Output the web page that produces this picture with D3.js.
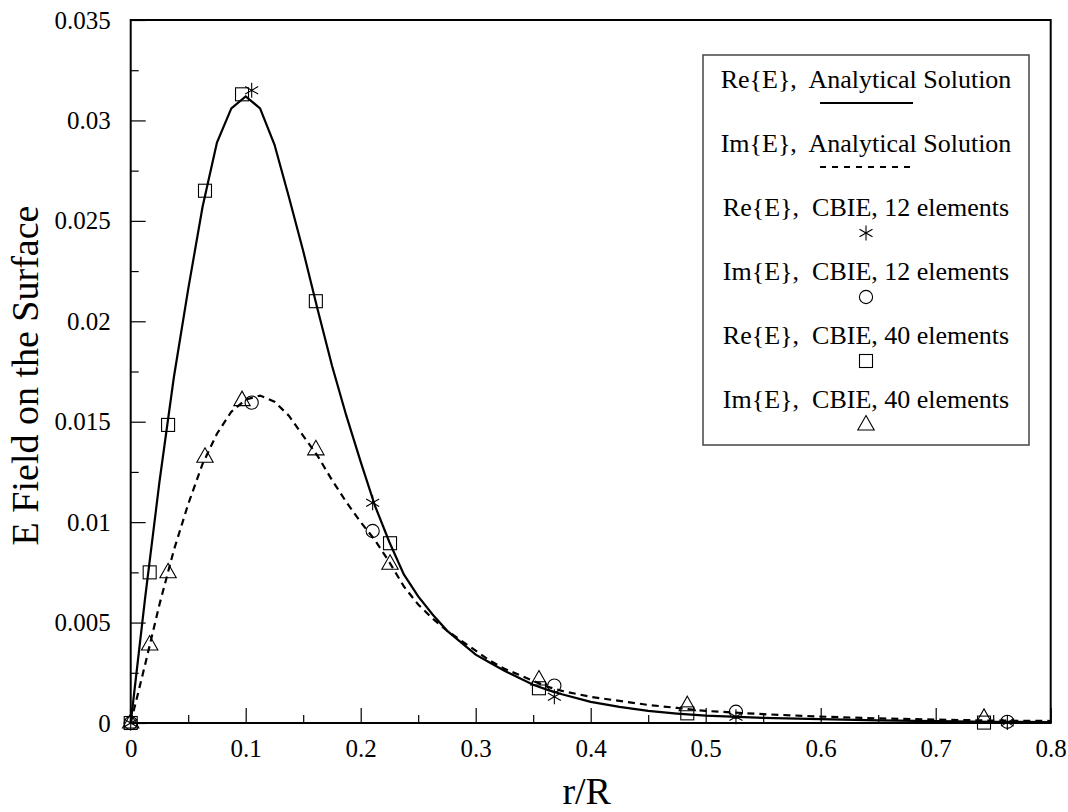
<!DOCTYPE html>
<html>
<head>
    <title></title>
    <meta charset="utf-8" />
    <script src="https://cdn.jsdelivr.net/npm/d3@7"></script>
    <style>
        body { margin: 0; background: #fff; }
        text { font-family: "Liberation Serif", "Times New Roman", serif; fill: #000; }
        .tick text { font-size: 25px; }
    </style>
</head>
<body>
    <script>
        // analytical curves, sampled along r/R
        var curveX = [0, 0.0125, 0.025, 0.0375, 0.05, 0.0625, 0.075, 0.0875, 0.1, 0.1125, 0.125, 0.1375, 0.15, 0.1625, 0.175, 0.1875,
            0.2, 0.2125, 0.225, 0.2375, 0.25, 0.2625, 0.275, 0.2875, 0.3, 0.3125, 0.325, 0.3375, 0.35, 0.3625, 0.375,
            0.4, 0.425, 0.45, 0.475, 0.5, 0.55, 0.6, 0.65, 0.7, 0.75, 0.8];
        var reAnalytic = [0, 0.0062, 0.0120, 0.0172, 0.0216, 0.0257, 0.0289, 0.0306, 0.0312, 0.0306, 0.0288, 0.0262, 0.0235, 0.0206, 0.0178, 0.0153,
            0.0130, 0.0108, 0.0090, 0.0074, 0.0063, 0.0054, 0.0046, 0.0040, 0.0034, 0.0030, 0.0026, 0.00225, 0.0019, 0.00165, 0.00143,
            0.00105, 0.0008, 0.0006, 0.00047, 0.00037, 0.00026, 0.00019, 0.00013, 0.00009, 0.00006, 0.00004];
        var imAnalytic = [0, 0.0029, 0.0059, 0.0086, 0.0109, 0.0129, 0.0144, 0.0155, 0.0161, 0.0163, 0.0160, 0.0153, 0.0143, 0.0133, 0.0121, 0.0110,
            0.0100, 0.0091, 0.0080, 0.0068, 0.0059, 0.0052, 0.0046, 0.0041, 0.0036, 0.0031, 0.0027, 0.0024, 0.0021, 0.0018, 0.0016,
            0.0013, 0.0011, 0.0009, 0.00075, 0.0006, 0.00044, 0.00032, 0.00023, 0.00017, 0.00012, 0.0001];

        // CBIE, 12 elements
        var x12 = [0, 0.1052, 0.2104, 0.3684, 0.5263, 0.7623];
        var re12 = [0, 0.0315, 0.01097, 0.00131, 0.00031, 0.00003];
        var im12 = [0, 0.01595, 0.00956, 0.00186, 0.00056, 0.00006];

        // CBIE, 40 elements
        var x40 = [0, 0.0165, 0.0325, 0.0646, 0.0968, 0.161, 0.2255, 0.355, 0.484, 0.742];
        var re40 = [0, 0.0075, 0.01484, 0.0265, 0.0313, 0.021, 0.00895, 0.00173, 0.00048, 0.00002];
        var im40 = [0, 0.00388, 0.00748, 0.01323, 0.01605, 0.0136, 0.0079, 0.00214, 0.00086, 0.00023];

        var legendLabels = ['Re{E},  Analytical Solution', 'Im{E},  Analytical Solution',
            'Re{E},  CBIE, 12 elements', 'Im{E},  CBIE, 12 elements',
            'Re{E},  CBIE, 40 elements', 'Im{E},  CBIE, 40 elements'];

        var xTicks = [0, 0.1, 0.2, 0.3, 0.4, 0.5, 0.6, 0.7, 0.8];
        var yTicks = [0, 0.005, 0.01, 0.015, 0.02, 0.025, 0.03, 0.035];

        var W = 1068, H = 812;
        var pLeft = 130.7, pRight = 1050.7, pTop = 20, pBottom = 723;
        var serif = '"Liberation Serif", "Times New Roman", serif';

        var svg = d3.select('body').append('svg').attr('width', W).attr('height', H);

        var x = d3.scaleLinear().domain([0, 0.8]).range([pLeft, pRight]);
        var y = d3.scaleLinear().domain([0, 0.035]).range([pBottom, pTop]);

        var fmt = function (d) { return d === 0 ? '0' : String(+d.toFixed(3)); };

        // axes, ticks pointing inward
        svg.append('g').attr('transform', 'translate(0,' + pBottom + ')')
            .call(d3.axisBottom(x).tickValues(xTicks).tickSize(-15).tickSizeOuter(0).tickPadding(16).tickFormat(fmt));
        svg.append('g').attr('transform', 'translate(0,' + pBottom + ')')
            .call(d3.axisBottom(x).tickValues(d3.range(0.05, 0.8, 0.1)).tickSize(-8).tickSizeOuter(0).tickFormat(''));
        svg.append('g').attr('transform', 'translate(' + pLeft + ',0)')
            .call(d3.axisLeft(y).tickValues(yTicks).tickSize(-15).tickSizeOuter(0).tickPadding(20).tickFormat(fmt));
        svg.append('g').attr('transform', 'translate(' + pLeft + ',0)')
            .call(d3.axisLeft(y).tickValues(d3.range(0.0025, 0.035, 0.005)).tickSize(-8).tickSizeOuter(0).tickFormat(''));

        svg.selectAll('.domain').remove();
        svg.selectAll('.tick line').attr('stroke', '#000').attr('stroke-width', 1.2);
        svg.selectAll('.tick text')
            .style('font-family', serif).style('font-size', '25px').attr('fill', '#000');

        // frame
        svg.append('rect')
            .attr('x', pLeft).attr('y', pTop)
            .attr('width', pRight - pLeft).attr('height', pBottom - pTop)
            .attr('fill', 'none').attr('stroke', '#000').attr('stroke-width', 2);

        // axis titles
        svg.append('text')
            .attr('x', (pLeft + pRight) / 2 - 4).attr('y', 804)
            .attr('text-anchor', 'middle').attr('font-size', 38)
            .text('r/R');
        svg.append('text')
            .attr('transform', 'translate(38,' + ((pTop + pBottom) / 2 + 4) + ') rotate(-90)')
            .attr('text-anchor', 'middle').attr('font-size', 38)
            .text('E Field on the Surface');

        // curves
        var line = function (ys) {
            return d3.line()
                .x(function (d, i) { return x(curveX[i]); })
                .y(function (d) { return y(d); })(ys);
        };
        svg.append('path').attr('d', line(reAnalytic))
            .attr('fill', 'none').attr('stroke', '#000').attr('stroke-width', 2.2);
        svg.append('path').attr('d', line(imAnalytic))
            .attr('fill', 'none').attr('stroke', '#000').attr('stroke-width', 2.2)
            .attr('stroke-dasharray', '7,5');

        // marker shapes
        function marker(g, type) {
            g.attr('fill', 'none').attr('stroke', '#000').attr('stroke-width', 1.1);
            if (type === 'star') {
                var a = 7.5, p = '';
                [90, 30, 150].forEach(function (deg) {
                    var r = deg * Math.PI / 180, dx = a * Math.cos(r), dy = a * Math.sin(r);
                    p += 'M' + (-dx) + ',' + (-dy) + 'L' + dx + ',' + dy;
                });
                g.append('path').attr('d', p);
            } else if (type === 'circle') {
                g.append('circle').attr('r', 6.6);
            } else if (type === 'square') {
                g.append('rect').attr('x', -6.5).attr('y', -6.5).attr('width', 13).attr('height', 13);
            } else if (type === 'triangle') {
                g.append('path').attr('d', 'M0,-9.5L8.2,5L-8.2,5Z');
            }
        }

        function drawPoints(xs, ys, type) {
            svg.append('g').selectAll('g').data(ys).enter()
                .append('g')
                .attr('transform', function (d, i) { return 'translate(' + x(xs[i]) + ',' + y(d) + ')'; })
                .each(function () { marker(d3.select(this), type); });
        }

        drawPoints(x40, re40, 'square');
        drawPoints(x40, im40, 'triangle');
        drawPoints(x12, re12, 'star');
        drawPoints(x12, im12, 'circle');

        // legend
        var lg = svg.append('g');
        lg.append('rect')
            .attr('x', 703).attr('y', 55).attr('width', 326).attr('height', 390)
            .attr('fill', '#fff').attr('stroke', '#444').attr('stroke-width', 1.5);
        var cx = 866;
        var types = ['solid', 'dash', 'star', 'circle', 'square', 'triangle'];
        legendLabels.forEach(function (t, i) {
            var by = 88 + i * 64;
            lg.append('text')
                .attr('x', cx).attr('y', by)
                .attr('text-anchor', 'middle').attr('font-size', 26)
                .attr('xml:space', 'preserve').style('white-space', 'pre')
                .text(t);
            if (types[i] === 'solid' || types[i] === 'dash') {
                lg.append('line')
                    .attr('x1', cx - 46).attr('x2', cx + 47)
                    .attr('y1', by + 15).attr('y2', by + 15)
                    .attr('stroke', '#000').attr('stroke-width', 2)
                    .attr('stroke-dasharray', types[i] === 'dash' ? '6,6' : null);
            } else {
                marker(lg.append('g').attr('transform', 'translate(' + cx + ',' + (by + 17) + ')'), types[i]);
            }
        });
    </script>
</body>
</html>
